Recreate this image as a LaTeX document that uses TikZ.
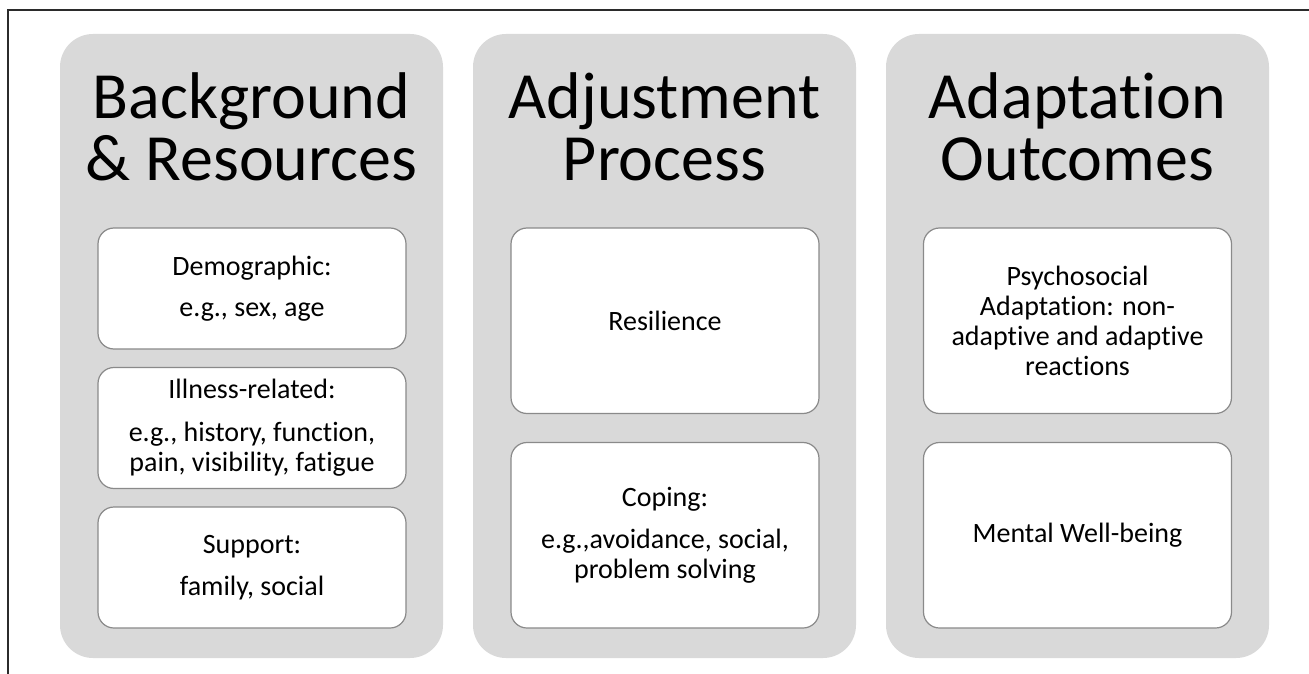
\documentclass[tikz,border=0pt]{standalone}
\usepackage{fontspec}
\setmainfont{Carlito}[Ligatures=NoCommon]
\definecolor{panelgray}{HTML}{D9D9D9}
\definecolor{cardline}{HTML}{8A8A8A}
\definecolor{frameline}{HTML}{2B2B2B}

\begin{document}
\begin{tikzpicture}[x=1pt,y=-1pt,
	panel/.style={fill=panelgray,rounded corners=33pt,minimum width=383pt,minimum height=624pt,inner sep=0pt},
	heading/.style={align=center,inner sep=0pt,font=\fontsize{66}{62}\selectfont},
	card/.style={draw=cardline,line width=1.2pt,fill=white,rounded corners=16pt,minimum width=308pt,inner sep=0pt,align=center,font=\fontsize{28}{30}\selectfont}]
	\useasboundingbox (0,0) rectangle (1309,674);
	\coordinate (fbl) at (8,674);
	\coordinate (ftl) at (8,10);
	\coordinate (ftr) at (1309,10);
	\draw[frameline,line width=2pt] (fbl) -- (ftl) -- (ftr);

	\node[panel] (bg) at (251.5,346) {};
	\node[panel] (adj) at (664.5,346) {};
	\node[panel] (out) at (1077.5,346) {};

	% base anchor sits on the second line
	\node[heading,anchor=base] (bgtitle) at (251.5,180) {Background\\\& Resources};
	\node[heading,anchor=base] (adjtitle) at (664.5,180) {Adjustment\\Process};
	\node[heading,anchor=base] (outtitle) at (1077.5,180) {Adaptation\\Outcomes};

	\node[card,minimum height=121pt] (demo) at (252,288.5) {Demographic:\\[11pt]e.g., sex, age};
	\node[card,minimum height=121pt] (ill) at (252,428) {Illness-related:\\[13pt]e.g., history, function,\\pain, visibility, fatigue};
	\node[card,minimum height=121pt] (supp) at (252,567.5) {Support:\\[12pt]family, social};

	\node[card,minimum height=185.5pt] (resil) at (665,320.75) {Resilience};
	\node[card,minimum height=185.5pt] (cope) at (665,535.25) {Coping:\\[12pt]e.g.,avoidance, social,\\problem solving};

	\node[card,minimum height=185.5pt] (psy) at (1077.5,320.75) {Psychosocial\\Adaptation: non-\\adaptive and adaptive\\reactions};
	\node[card,minimum height=185.5pt] (well) at (1077.5,535.25) {Mental Well-being};
\end{tikzpicture}
\end{document}
